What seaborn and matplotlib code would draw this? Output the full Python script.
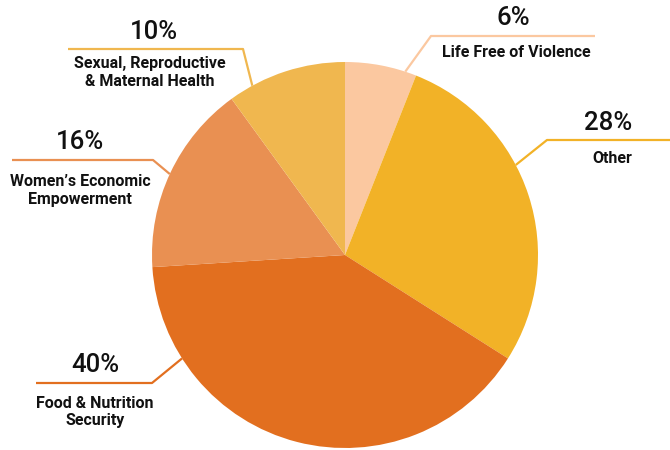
import numpy as np
import matplotlib
matplotlib.use("Agg")
import matplotlib.pyplot as plt
import seaborn as sns

# data (clockwise from 12 o'clock)
categories = ["Life Free of Violence", "Other", "Food & Nutrition\nSecurity",
              "Women\u2019s Economic\nEmpowerment", "Sexual, Reproductive\n& Maternal Health"]
shares = [6, 28, 40, 16, 10]
colors = ["#FBC8A0", "#F2B227", "#E26F1F", "#E99052", "#F0B74F"]

sns.set_style("white")
plt.rcParams['font.family'] = ['Roboto', 'DejaVu Sans']

W, H = 670, 450
CX, CY, R = 345, 255, 193


def to_data(px, py):
    return (px - CX) / R, (CY - py) / R


fig = plt.figure(figsize=(6.7, 4.5), dpi=100)
ax = fig.add_axes([0, 0, 1, 1])
ax.pie(shares, colors=colors, startangle=90, counterclock=False,
       radius=1, wedgeprops=dict(linewidth=0))

# label layout: attach angle on rim (deg), elbow point, line end, pct text pos, label pos (pixels)
layout = [
    dict(ang=71.8, elbow=(431, 36), end=(595, 36), pct=(513, 18), lab=(516, 52)),
    dict(ang=27.8, elbow=(547, 140), end=(672, 140), pct=(608, 123), lab=(612, 158)),
    dict(ang=212.4, elbow=(152, 383), end=(36, 383), pct=(95, 365), lab=(95, 412)),
    dict(ang=155.2, elbow=(153, 160), end=(12, 160), pct=(80, 142), lab=(80, 190)),
    dict(ang=118.7, elbow=(243, 49), end=(68, 49), pct=(154, 32), lab=(150, 72)),
]

for cat, val, col, lay in zip(categories, shares, colors, layout):
    a = np.radians(lay["ang"])
    rim = (np.cos(a), np.sin(a))
    ex, ey = to_data(*lay["elbow"])
    fx, fy = to_data(*lay["end"])
    ax.plot([rim[0], ex, fx], [rim[1], ey, fy], color=col, lw=1.6,
            solid_capstyle="butt", clip_on=False)
    px, py = to_data(*lay["pct"])
    ax.text(px, py, f"{val}%", ha="center", va="center", fontsize=18.5,
            fontweight="medium", color="#111111")
    lx, ly = to_data(*lay["lab"])
    ax.text(lx, ly, cat, ha="center", va="center", fontsize=11.5,
            fontweight="bold", color="#111111", linespacing=1.25)

ax.set_xlim(-CX / R, (W - CX) / R)
ax.set_ylim(-(H - CY) / R, CY / R)
ax.set_aspect("equal")
ax.axis("off")

fig.savefig("out.png", dpi=100, facecolor="white")
